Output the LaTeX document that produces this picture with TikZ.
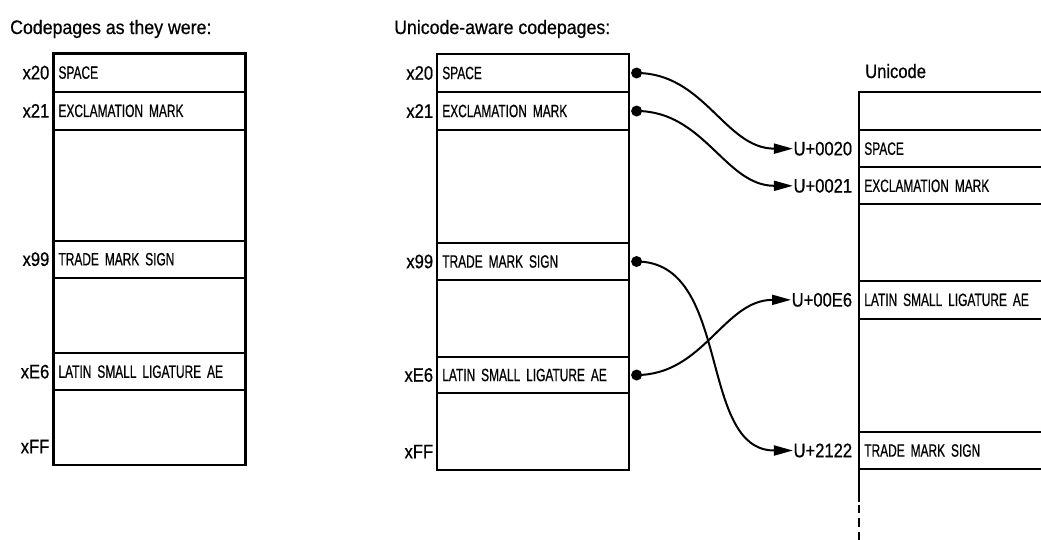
\documentclass[tikz,border=0pt]{standalone}
\usepackage{fontspec}
\setmainfont{Liberation Sans}[FakeStretch=0.85,FakeBold=0.6]
\newfontfamily\capsfont{Liberation Sans}[FakeStretch=0.67,FakeBold=0.6]
\newfontfamily\headfont{Liberation Sans}[FakeStretch=0.91,FakeBold=0.6]
\usetikzlibrary{arrows.meta}
\begin{document}
\begin{tikzpicture}[x=1pt,y=-1pt,
  cell/.style={draw,line width=2.2pt,anchor=north west,text width=182pt,
    inner xsep=5pt,inner ysep=0pt,outer sep=0pt,align=left,
    font=\capsfont\fontsize{17.8}{17.8}\selectfont},
  ucell/.style={cell,text width=190pt},
  below/.style={anchor=north west,at={(#1.south west)}},
  rowlab/.style={anchor=east,inner sep=2pt,font=\fontsize{19.5}{19.5}\selectfont},
  ulab/.style={anchor=east,inner sep=0.5pt,font=\fontsize{19.5}{19.5}\selectfont},
  head/.style={anchor=base west,inner sep=0pt,font=\headfont\fontsize{19.5}{19.5}\selectfont},
  conn/.style={line width=2pt,-{Triangle[length=19pt,width=10pt]}},
  dot/.style={fill=black}
]
\clip (0,0) rectangle (1041,539);

% headers
\node[head] (h1) at (10,34) {Codepages as they were:};
\node[head] (h2) at (394,34) {Unicode-aware codepages:};
\node[head,font=\fontsize{19.5}{19.5}\selectfont] (h3) at (865,78) {Unicode};

% left codepage
\node[cell,minimum height=38.2pt] (a1) at (53.5,53.5) {SPACE};
\node[cell,below=a1,minimum height=38.3pt] (a2) {EXCLAMATION MARK};
\node[cell,below=a2,minimum height=110.7pt] (a3) {};
\node[cell,below=a3,minimum height=37pt] (a4) {TRADE MARK SIGN};
\node[cell,below=a4,minimum height=75.6pt] (a5) {};
\node[cell,below=a5,minimum height=36.7pt] (a6) {LATIN SMALL LIGATURE AE};
\node[cell,below=a6,minimum height=75pt] (a7) {};
\node[rowlab] (la1) at ([xshift=-2pt]a1.west) {x20};
\node[rowlab] (la2) at ([xshift=-2pt]a2.west) {x21};
\node[rowlab] (la4) at ([xshift=-2pt]a4.west) {x99};
\node[rowlab] (la6) at ([xshift=-2pt]a6.west) {xE6};
\node[rowlab] (la7) at ([xshift=-2pt,yshift=-19pt]a7.west) {xFF};

% middle codepage
\node[cell,minimum height=38pt] (b1) at (437.3,54) {SPACE};
\node[cell,below=b1,minimum height=38pt] (b2) {EXCLAMATION MARK};
\node[cell,below=b2,minimum height=112.7pt] (b3) {};
\node[cell,below=b3,minimum height=37.6pt] (b4) {TRADE MARK SIGN};
\node[cell,below=b4,minimum height=76.4pt] (b5) {};
\node[cell,below=b5,minimum height=36.6pt] (b6) {LATIN SMALL LIGATURE AE};
\node[cell,below=b6,minimum height=76.7pt] (b7) {};
\node[rowlab] (lb1) at ([xshift=-2pt]b1.west) {x20};
\node[rowlab] (lb2) at ([xshift=-2pt]b2.west) {x21};
\node[rowlab] (lb4) at ([xshift=-2pt]b4.west) {x99};
\node[rowlab] (lb6) at ([xshift=-2pt]b6.west) {xE6};
\node[rowlab] (lb7) at ([xshift=-2pt,yshift=-20pt]b7.west) {xFF};

% unicode table
\node[ucell,minimum height=37.7pt] (u1) at (859.3,92.3) {};
\node[ucell,below=u1,minimum height=37.3pt] (u2) {SPACE};
\node[ucell,below=u2,minimum height=37pt] (u3) {EXCLAMATION MARK};
\node[ucell,below=u3,minimum height=76.4pt] (u4) {};
\node[ucell,below=u4,minimum height=38.3pt] (u5) {LATIN SMALL LIGATURE AE};
\node[ucell,below=u5,minimum height=112.7pt] (u6) {};
\node[ucell,below=u6,minimum height=37.6pt] (u7) {TRADE MARK SIGN};
\coordinate (uend) at ([yshift=-32.4pt]u7.south west);
\coordinate (ugap) at ([yshift=-35.7pt]u7.south west);
\coordinate (ubot) at ([yshift=-75pt]u7.south west);
\draw[line width=2.2pt] (u7.south west) -- (uend);
\draw[line width=2.2pt,dash pattern=on 8.3pt off 5pt] (ugap) -- (ubot);

\node[ulab] (l20) at ([xshift=-6.5pt]u2.west) {U+0020};
\node[ulab] (l21) at ([xshift=-6.5pt]u3.west) {U+0021};
\node[ulab] (lE6) at ([xshift=-6.5pt]u5.west) {U+00E6};
\node[ulab] (l2122) at ([xshift=-6.5pt]u7.west) {U+2122};

% connectors
\coordinate (d20) at ([xshift=7.3pt]b1.east);
\coordinate (d21) at ([xshift=7.3pt]b2.east);
\coordinate (d99) at ([xshift=7.3pt]b4.east);
\coordinate (dE6) at ([xshift=7.3pt]b6.east);
\foreach \d in {d20,d21,d99,dE6} \fill[dot] (\d) circle (5.5);
\draw[conn] (d20) to[out=0,in=180] (l20.west);
\draw[conn] (d21) to[out=0,in=180] (l21.west);
\draw[conn] (d99) to[out=0,in=180] (l2122.west);
\draw[conn] (dE6) to[out=0,in=180] (lE6.west);
\end{tikzpicture}
\end{document}
